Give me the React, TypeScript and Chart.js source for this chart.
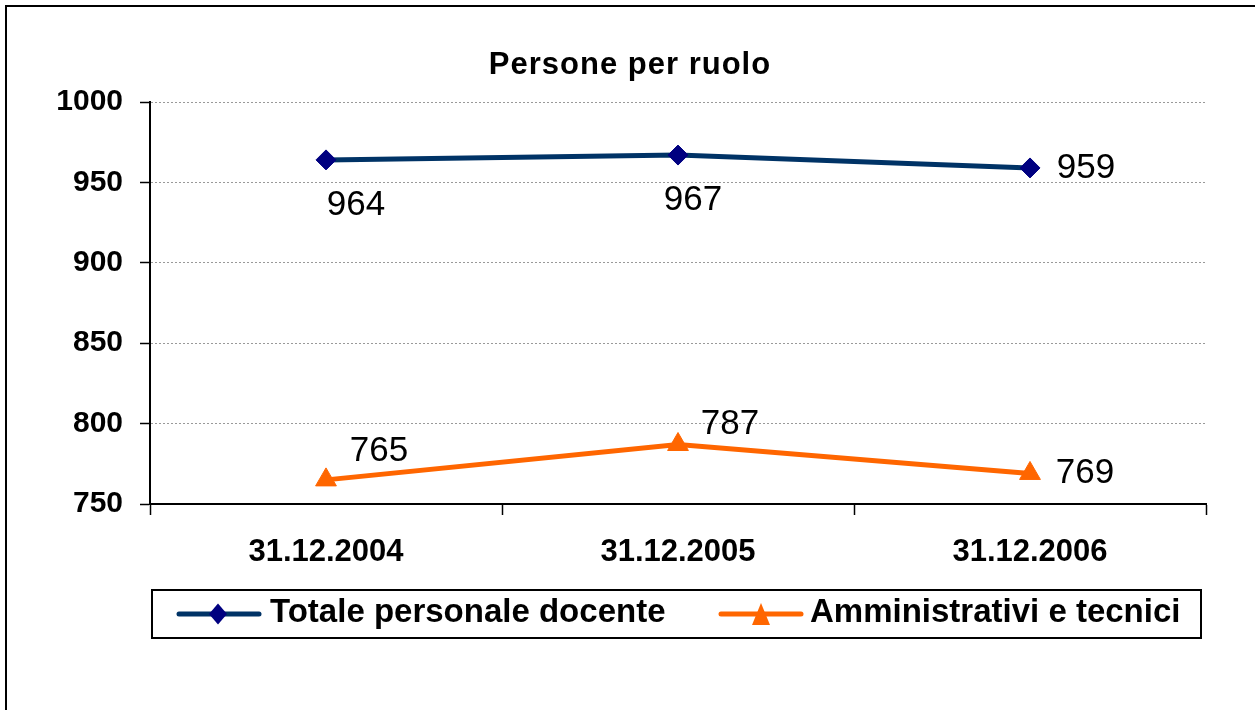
import React, { useEffect, useRef } from "react";
import { Chart, registerables } from "chart.js";

Chart.register(...registerables);

const TITLE = "Persone per ruolo";
const CATEGORIES = ["31.12.2004", "31.12.2005", "31.12.2006"];
const SERIES_NAMES = ["Totale personale docente", "Amministrativi e tecnici"];
const DOCENTI = [964, 967, 959];
const AMMINISTRATIVI = [765, 787, 769];
const Y_MIN = 750;
const Y_MAX = 1000;
const Y_STEP = 50;

// label offsets (px) relative to each point: [dx, dy]
const LABEL_OFFSETS = [
  [[30, 45], [15, 45], [56, 0]],
  [[53, -29], [52, -20], [55, 0]],
];

const FONT = "'Liberation Sans', Arial, sans-serif";
const BLUE_LINE = "#003366";
const BLUE_MARK = "#000080";
const ORANGE = "#FF6600";

const decorPlugin = {
  id: "decor",
  afterDatasetsDraw(chart: any) {
    const ctx = chart.ctx;
    ctx.save();
    ctx.font = `35px ${FONT}`;
    ctx.fillStyle = "#000";
    ctx.textAlign = "center";
    ctx.textBaseline = "middle";
    chart.data.datasets.forEach((ds: any, di: number) => {
      const meta = chart.getDatasetMeta(di);
      meta.data.forEach((pt: any, i: number) => {
        const [dx, dy] = LABEL_OFFSETS[di][i];
        ctx.fillText(String(ds.data[i]), pt.x + dx, pt.y + dy);
      });
    });
    ctx.restore();
  },
  afterDraw(chart: any) {
    const ctx = chart.ctx;
    ctx.save();
    // title
    ctx.fillStyle = "#000";
    ctx.font = `bold 31px ${FONT}`;
    ctx.textAlign = "center";
    ctx.textBaseline = "alphabetic";
    try {
      (ctx as any).letterSpacing = "1px";
    } catch (e) {}
    ctx.fillText(TITLE, 630, 74);
    try {
      (ctx as any).letterSpacing = "0px";
    } catch (e) {}
    // outer frame
    ctx.strokeStyle = "#000";
    ctx.lineWidth = 2;
    ctx.strokeRect(6, 6, 1400, 900);
    // legend box
    ctx.lineWidth = 2;
    ctx.strokeRect(152, 590, 1049, 48);
    const ly = 614;
    // item 1
    ctx.lineCap = "round";
    ctx.strokeStyle = BLUE_LINE;
    ctx.lineWidth = 5;
    ctx.beginPath();
    ctx.moveTo(179, ly);
    ctx.lineTo(259, ly);
    ctx.stroke();
    ctx.fillStyle = BLUE_MARK;
    ctx.beginPath();
    ctx.moveTo(218, ly - 10.5);
    ctx.lineTo(227, ly);
    ctx.lineTo(218, ly + 10.5);
    ctx.lineTo(209, ly);
    ctx.closePath();
    ctx.fill();
    // item 2
    ctx.strokeStyle = ORANGE;
    ctx.beginPath();
    ctx.moveTo(721, ly);
    ctx.lineTo(801, ly);
    ctx.stroke();
    ctx.fillStyle = ORANGE;
    ctx.beginPath();
    ctx.moveTo(761, ly - 11);
    ctx.lineTo(770, ly + 11);
    ctx.lineTo(752, ly + 11);
    ctx.closePath();
    ctx.fill();
    // legend text
    ctx.fillStyle = "#000";
    ctx.font = `bold 33px ${FONT}`;
    ctx.textAlign = "left";
    ctx.textBaseline = "middle";
    ctx.fillText(SERIES_NAMES[0], 270, ly - 1);
    ctx.fillText(SERIES_NAMES[1], 810, ly - 1);
    ctx.restore();
  },
};

export default function App() {
  const ref = useRef<HTMLCanvasElement>(null);
  useEffect(() => {
    if (!ref.current) return;
    const chart = new Chart(ref.current, {
      type: "line",
      data: {
        labels: CATEGORIES,
        datasets: [
          {
            label: SERIES_NAMES[0],
            data: DOCENTI,
            borderColor: BLUE_LINE,
            borderWidth: 5,
            tension: 0,
            pointStyle: "rectRot",
            pointRadius: 10,
            pointBackgroundColor: BLUE_MARK,
            pointBorderColor: BLUE_MARK,
            pointBorderWidth: 1,
          },
          {
            label: SERIES_NAMES[1],
            data: AMMINISTRATIVI,
            borderColor: ORANGE,
            borderWidth: 5,
            tension: 0,
            pointStyle: "triangle",
            pointRadius: 12,
            pointBackgroundColor: ORANGE,
            pointBorderColor: ORANGE,
            pointBorderWidth: 1,
          },
        ],
      },
      options: {
        responsive: false,
        animation: false,
        layout: { padding: { left: 0, right: 49, top: 102, bottom: 0 } },
        plugins: {
          legend: { display: false },
          tooltip: { enabled: false },
          title: { display: false },
        },
        scales: {
          x: {
            offset: true,
            grid: {
              display: true,
              offset: true,
              drawOnChartArea: false,
              drawTicks: true,
              tickLength: 11,
              tickColor: "#000",
              tickWidth: 1.5,
            },
            border: { display: true, color: "#000", width: 2 },
            ticks: {
              color: "#000",
              padding: 19,
              font: { family: FONT, size: 31, weight: "bold" },
              maxRotation: 0,
            },
            afterFit: (s: any) => {
              s.height = 206;
            },
          },
          y: {
            min: Y_MIN,
            max: Y_MAX,
            ticks: {
              stepSize: Y_STEP,
              color: "#000",
              padding: 17,
              font: { family: FONT, size: 30, weight: "bold" },
              callback: (v: any) => String(v),
            },
            grid: {
              color: (c: any) => (c.tick && c.tick.value === Y_MIN ? "rgba(0,0,0,0)" : "#999"),
              lineWidth: 1,
              tickLength: 10,
              tickColor: "#000",
              tickWidth: 1.5,
            },
            border: { display: true, color: "#000", width: 2, dash: [2, 2] },
            afterFit: (s: any) => {
              s.width = 150;
            },
          },
        },
      },
      plugins: [decorPlugin],
    });
    return () => chart.destroy();
  }, []);
  return (
    <div
      style={{
        position: "fixed",
        left: 0,
        top: 0,
        width: 1255,
        height: 710,
        overflow: "hidden",
        background: "#fff",
      }}
    >
      <canvas ref={ref} width={1255} height={710} style={{ display: "block" }} />
    </div>
  );
}
